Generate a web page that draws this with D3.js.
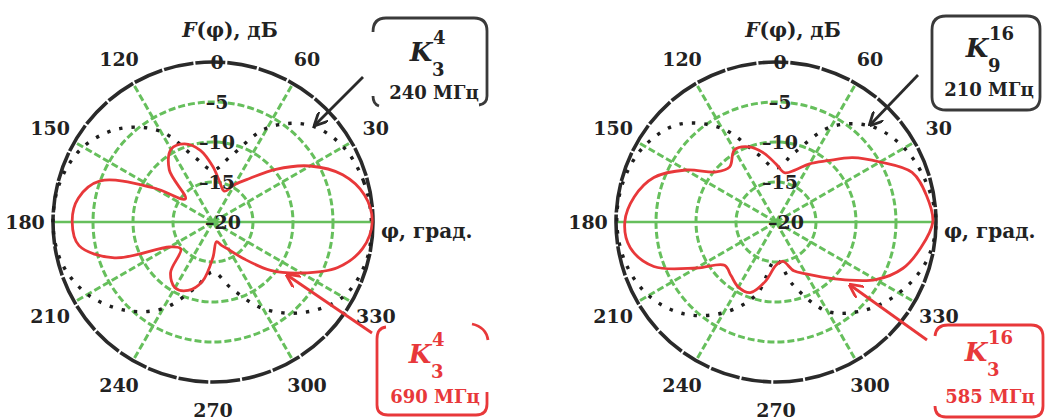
<!DOCTYPE html>
<html>
<head>
<meta charset="utf-8">
<script src="https://cdn.jsdelivr.net/npm/d3@7"></script>
<style>
  body { margin: 0; background: #fff; }
  svg { display: block; }
  .lbl { font-family: "DejaVu Serif", serif; font-weight: bold; fill: #222; }
</style>
</head>
<body>
<svg id="chart" width="1048" height="420"></svg>
<script>
// Polar grid ticks
const angleTicks = [30, 60, 120, 150, 180, 210, 240, 270, 300, 330];
const angleTickLabels = ["30", "60", "120", "150", "180", "210", "240", "270", "300", "330"];
const spokeAngles = [30, 60, 120, 150, 210, 240, 300, 330];
const levelTicks = [0, -5, -10, -15, -20];
const levelTickLabels = ["0", "–5", "–10", "–15", "–20"];
const ringLevels = [-5, -10, -15];

// Measured directional patterns, dB vs azimuth (degrees)
const sampleAngles = [0, 10, 20, 30, 40, 50, 60, 70, 80, 90, 100, 110, 120, 130, 140, 150, 160, 170,
                      180, 190, 200, 210, 220, 230, 240, 250, 260, 270, 280, 290, 300, 310, 320, 330, 340, 350];
const coarseAngles = [0, 15, 30, 45, 60, 75, 90, 105, 120, 135, 150, 165,
                      180, 195, 210, 225, 240, 255, 270, 285, 300, 315, 330, 345];

// K3^4, 690 MHz
const pattern690 = [-0.1, -0.75, -2.75, -6, -9.75, -12.9, -14.6, -15.9, -15.0, -13.1, -10.9, -9.6,
                    -9.5, -11.5, -15.5, -11.5, -5, -2.9, -2.4, -3, -6.9, -13.75, -14.75, -11.75,
                    -10.5, -10.9, -12.5, -15.6, -17.5, -16.9, -16, -14, -10.6, -7.25, -3.4, -1];
// K3^4, 240 MHz
const pattern240 = [-0.2, -0.5, -1.2, -2.9, -6.4, -11.5, -13.5, -11.75, -6.9, -3.5, -1.25, -0.25,
                    0, -0.4, -1.9, -4.4, -7.5, -11.5, -13.75, -11.5, -7.5, -4, -1.25, -0.25];
// K3^16, 585 MHz
const pattern585 = [-0.4, -0.9, -1.9, -5, -7.5, -10, -11.6, -13.1, -13.75, -12.75, -11.25, -10,
                    -9.6, -11, -10.25, -7, -3.75, -2, -1.1, -1.5, -3.75, -8.5, -11.6, -11.25,
                    -10.6, -10.6, -12.5, -14.6, -15, -13.5, -12.5, -11, -8.75, -5.6, -3.1, -1.6];
// K9^16, 210 MHz
const pattern210 = [0, -0.6, -1.5, -3.1, -6.25, -11, -13.25, -11.25, -6.5, -2.75, -1, -0.25,
                    -0.1, -0.5, -1.6, -3.75, -6.9, -10.6, -15.25, -11.9, -7.1, -4.4, -2.25, -0.6];

const R = 160;
const toRad = d => d * Math.PI / 180;
const rScale = d3.scaleLinear().domain([-20, 0]).range([0, R]);

const green = "#66bf5c";
const red = "#e8383a";
const dark = "#2a2a2a";

const svg = d3.select("#chart");
const defs = svg.append("defs");
defs.append("marker").attr("id", "tipDark").attr("viewBox", "0 0 10 10")
  .attr("refX", 9).attr("refY", 5).attr("markerWidth", 5).attr("markerHeight", 5)
  .attr("orient", "auto")
  .append("path").attr("d", "M0,0 L10,5 L0,10").attr("fill", "none").attr("stroke", dark).attr("stroke-width", 2);
defs.append("marker").attr("id", "tipRed").attr("viewBox", "0 0 10 10")
  .attr("refX", 9).attr("refY", 5).attr("markerWidth", 5).attr("markerHeight", 5)
  .attr("orient", "auto")
  .append("path").attr("d", "M0,0 L10,5 L0,10").attr("fill", "none").attr("stroke", red).attr("stroke-width", 2);

function radialLine(angles) {
  return d3.lineRadial()
    .angle((d, i) => toRad(90 - angles[i]))
    .radius(d => rScale(d))
    .curve(d3.curveCatmullRomClosed.alpha(0.5));
}

function drawPanel(p) {
  const g = svg.append("g").attr("transform", `translate(${p.cx},${p.cy})`);

  // level rings
  g.selectAll("circle.ring").data(ringLevels).join("circle")
    .attr("r", d => rScale(d))
    .attr("fill", "none").attr("stroke", green).attr("stroke-width", 3)
    .attr("stroke-dasharray", "7,3");

  // azimuth spokes
  g.selectAll("line.spoke").data(spokeAngles).join("line")
    .attr("x1", 0).attr("y1", 0)
    .attr("x2", d => R * Math.cos(toRad(d)))
    .attr("y2", d => -R * Math.sin(toRad(d)))
    .attr("stroke", green).attr("stroke-width", 3).attr("stroke-dasharray", "7,3");

  g.append("line")
    .attr("x1", -R).attr("x2", R).attr("y1", 0).attr("y2", 0)
    .attr("stroke", green).attr("stroke-width", 2.4);

  // outer 0 dB circle
  g.append("circle").attr("r", rScale(0))
    .attr("fill", "none").attr("stroke", dark).attr("stroke-width", 3.6)
    .attr("stroke-dasharray", "30,2");

  // reference pattern (dotted)
  g.append("path").datum(p.dotted)
    .attr("d", radialLine(coarseAngles))
    .attr("fill", "none").attr("stroke", "#1e1e1e").attr("stroke-width", 3.4)
    .attr("stroke-dasharray", "3.4,9");

  // measured pattern (red)
  g.append("path").datum(p.red)
    .attr("d", radialLine(sampleAngles))
    .attr("fill", "none").attr("stroke", red).attr("stroke-width", 2.8);

  // azimuth labels
  g.selectAll("text.ang").data(angleTicks).join("text")
    .attr("class", "lbl")
    .attr("x", d => 188 * Math.cos(toRad(d)))
    .attr("y", d => -188 * Math.sin(toRad(d)))
    .attr("text-anchor", "middle").attr("dominant-baseline", "central")
    .attr("font-size", 19)
    .text((d, i) => angleTickLabels[i]);

  // level labels along vertical
  g.selectAll("text.lev").data(levelTicks).join("text")
    .attr("class", "lbl")
    .attr("x", (d, i) => i === 4 ? 10 : 4)
    .attr("y", d => -rScale(d))
    .attr("text-anchor", "middle").attr("dominant-baseline", "central")
    .attr("font-size", 19)
    .text((d, i) => levelTickLabels[i]);

  // axis titles
  const t = g.append("text").attr("class", "lbl").attr("x", 17).attr("y", -192)
    .attr("text-anchor", "middle").attr("dominant-baseline", "central").attr("font-size", 20);
  t.append("tspan").attr("font-style", "italic").text("F");
  t.append("tspan").text("(φ), дБ");

  g.append("text").attr("class", "lbl").attr("x", 168).attr("y", 9)
    .attr("dominant-baseline", "central").attr("font-size", 20)
    .text("φ, град.");

  // callout lines
  g.append("line").attr("x1", p.darkLine[0]).attr("y1", p.darkLine[1])
    .attr("x2", p.darkLine[2]).attr("y2", p.darkLine[3])
    .attr("stroke", dark).attr("stroke-width", 2.8).attr("marker-end", "url(#tipDark)");
  g.append("line").attr("x1", p.redLine[0]).attr("y1", p.redLine[1])
    .attr("x2", p.redLine[2]).attr("y2", p.redLine[3])
    .attr("stroke", red).attr("stroke-width", 2.8).attr("marker-end", "url(#tipRed)");

  // legend boxes
  svg.append("path").attr("d", p.darkBox).attr("fill", "none")
    .attr("stroke", "#3a3a3a").attr("stroke-width", 2.8);
  svg.append("path").attr("d", p.redBox).attr("fill", "none")
    .attr("stroke", red).attr("stroke-width", 2.8);

  legendText(p.darkText, "#222");
  legendText(p.redText, red);
}

function legendText(L, color) {
  svg.append("text").attr("x", L.x).attr("y", L.y)
    .attr("font-family", "DejaVu Serif, serif").attr("font-weight", "bold").attr("font-style", "italic")
    .attr("font-size", 26).attr("fill", color).attr("text-anchor", "middle").attr("dominant-baseline", "central")
    .text("K");
  svg.append("text").attr("x", L.x + 12).attr("y", L.y - 15)
    .attr("font-family", "DejaVu Serif, serif").attr("font-weight", "bold")
    .attr("font-size", 18).attr("fill", color).attr("dominant-baseline", "central")
    .text(L.sup);
  svg.append("text").attr("x", L.x + 11).attr("y", L.y + 17)
    .attr("font-family", "DejaVu Serif, serif").attr("font-weight", "bold")
    .attr("font-size", 18).attr("fill", color).attr("dominant-baseline", "central")
    .text(L.sub);
  svg.append("text").attr("x", L.fx).attr("y", L.fy)
    .attr("font-family", "DejaVu Serif, serif").attr("font-weight", "bold")
    .attr("font-size", 18).attr("fill", color).attr("text-anchor", "middle").attr("dominant-baseline", "central")
    .text(L.freq);
}

const panels = [
  {
    cx: 213, cy: 222, red: pattern690, dotted: pattern240,
    darkLine: [150, -145, 102, -97],
    redLine: [159, 111, 74, 53],
    darkBox: "M373,32 Q373,18 386,18 L474,18 Q487,18 487,31 L487,96 Q487,104 479,105 M373,96 Q373,104 379,106",
    redBox: "M386,327 Q377,328 377,339 L377,405 Q377,415 388,415 L476,415 Q487,415 487,404 L487,392 M472,324 Q486,327 488,340",
    darkText: { x: 421, y: 52, sup: "4", sub: "3", freq: "240 МГц", fx: 434, fy: 92 },
    redText: { x: 420, y: 354, sup: "4", sub: "3", freq: "690 МГц", fx: 435, fy: 396 }
  },
  {
    cx: 776, cy: 222, red: pattern585, dotted: pattern210,
    darkLine: [142, -147, 94, -97],
    redLine: [151, 118, 74, 63],
    darkBox: "M932,30 Q932,16 946,16 L1027,16 Q1040,16 1040,29 L1040,97 Q1040,110 1027,110 L946,110 Q932,110 932,97 Z",
    redBox: "M935,336 Q936,325 948,325 L1031,325 Q1043,325 1043,337 L1043,406 Q1043,417 1032,417 L946,417 Q935,417 935,406",
    darkText: { x: 977, y: 48, sup: "16", sub: "9", freq: "210 МГц", fx: 989, fy: 89 },
    redText: { x: 976, y: 352, sup: "16", sub: "3", freq: "585 МГц", fx: 990, fy: 396 }
  }
];

panels.forEach(drawPanel);
</script>
</body>
</html>
